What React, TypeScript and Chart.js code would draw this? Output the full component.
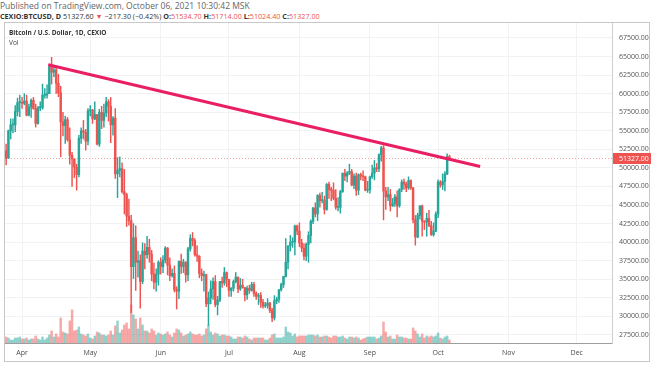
import React, { useEffect, useRef } from "react";
import { Chart, registerables } from "chart.js";

Chart.register(...registerables);

// Day offset (relative to 1 Apr 2021) of the first candle: 25 Mar 2021
const FIRST_DAY = -7;

// Daily OHLC in thousands of USD, 25 Mar 2021 .. 6 Oct 2021
const opens = [
  52.3, 51.3, 55.0, 55.8, 55.8, 57.6, 58.8, 58.8, 58.7, 59.0,
  57.1, 58.2, 59.1, 58.0, 56.0, 58.1, 58.1, 59.8, 59.8, 60.0,
  63.6, 62.9, 63.2, 61.4, 60.1, 56.2, 55.7, 56.5, 53.8, 51.7,
  51.2, 50.1, 49.1, 54.0, 55.0, 54.8, 53.6, 57.7, 57.8, 56.6,
  57.2, 53.2, 57.5, 56.4, 57.4, 58.9, 58.3, 55.8, 56.7, 49.2,
  49.7, 49.9, 46.8, 46.4, 43.5, 42.9, 36.7, 40.6, 37.3, 37.5,
  34.7, 38.8, 38.3, 39.3, 38.4, 35.7, 34.6, 35.7, 37.3, 36.7,
  37.6, 39.2, 36.9, 35.5, 35.8, 33.6, 33.4, 37.4, 36.7, 37.3,
  35.6, 39.1, 40.5, 40.2, 38.3, 38.1, 35.8, 35.5, 35.6, 31.7,
  32.5, 33.7, 34.7, 31.6, 32.2, 34.7, 34.5, 35.9, 35.0, 33.5,
  33.8, 34.7, 35.3, 33.7, 34.2, 33.9, 32.9, 33.8, 33.5, 34.3,
  33.1, 32.7, 32.8, 31.9, 31.4, 31.5, 31.8, 30.8, 29.8, 32.1,
  32.3, 33.6, 34.3, 35.4, 37.3, 39.5, 40.0, 40.0, 42.2, 41.5,
  39.9, 39.2, 38.1, 39.7, 40.9, 42.8, 44.6, 43.8, 46.3, 45.6,
  45.6, 44.4, 47.8, 47.1, 47.0, 45.9, 44.7, 44.7, 46.8, 49.3,
  48.9, 49.3, 49.5, 47.7, 48.9, 47.0, 49.1, 48.9, 48.8, 47.0,
  47.1, 48.8, 49.3, 50.0, 49.9, 51.8, 52.7, 46.9, 46.1, 46.4,
  44.9, 45.2, 46.1, 44.9, 47.1, 48.1, 47.8, 47.3, 48.3, 47.3,
  43.0, 40.7, 43.6, 44.9, 42.8, 42.7, 43.2, 42.2, 41.0, 41.5,
  43.8, 48.1, 47.7, 48.2, 49.2, 51.5347,
];

const highs = [
  53.2, 55.1, 56.6, 56.6, 58.4, 59.4, 59.8, 59.5, 60.0, 59.8,
  58.6, 59.3, 59.5, 58.6, 58.3, 58.9, 61.3, 60.7, 61.2, 63.8,
  64.9, 63.8, 63.6, 62.6, 61.0, 57.5, 57.0, 56.8, 55.4, 52.1,
  51.2, 50.5, 54.4, 55.4, 56.4, 55.2, 58.0, 58.4, 57.9, 58.9,
  57.2, 57.9, 58.3, 58.6, 59.5, 59.2, 59.5, 56.9, 58.0, 51.4,
  51.5, 50.7, 49.8, 46.6, 45.8, 43.6, 42.5, 42.2, 38.8, 38.3,
  39.9, 39.8, 40.8, 40.4, 38.9, 37.2, 36.4, 37.5, 37.9, 38.2,
  39.4, 39.3, 37.9, 36.4, 36.8, 34.0, 37.5, 38.4, 37.7, 37.4,
  39.3, 41.0, 41.3, 40.5, 39.5, 38.2, 36.4, 36.1, 35.7, 33.3,
  34.8, 35.2, 35.5, 32.7, 34.7, 35.3, 36.6, 36.0, 35.0, 33.9,
  34.9, 35.9, 35.3, 35.1, 35.0, 33.9, 34.1, 34.2, 34.6, 34.6,
  33.3, 33.1, 33.2, 32.3, 31.9, 32.4, 31.9, 31.1, 32.8, 32.6,
  33.6, 34.5, 35.4, 40.5, 39.5, 40.9, 40.6, 42.3, 42.3, 42.6,
  40.4, 39.8, 39.9, 41.4, 43.0, 44.7, 45.3, 46.4, 46.6, 46.7,
  46.2, 47.9, 48.1, 47.4, 48.0, 47.1, 46.0, 47.0, 49.3, 49.8,
  49.5, 50.5, 49.8, 49.2, 49.3, 49.2, 49.3, 49.6, 48.9, 48.2,
  48.9, 50.4, 51.0, 50.6, 51.9, 52.9, 53.0, 47.4, 47.4, 47.1,
  45.9, 46.4, 46.9, 47.2, 48.4, 48.5, 48.1, 48.8, 48.4, 47.4,
  43.6, 43.9, 44.9, 45.0, 42.9, 43.9, 44.3, 42.8, 42.6, 44.1,
  48.4, 48.3, 49.2, 49.5, 51.9, 51.714,
];

const lows = [
  50.4, 51.3, 53.9, 54.7, 54.9, 57.0, 56.9, 58.0, 58.5, 57.0,
  57.0, 56.8, 57.9, 55.5, 55.9, 57.7, 57.9, 59.4, 59.4, 60.0,
  61.3, 62.3, 60.0, 59.6, 51.5, 54.3, 53.3, 53.6, 50.5, 47.5,
  48.7, 47.0, 48.8, 53.3, 53.9, 52.4, 53.1, 57.0, 56.0, 56.5,
  53.1, 52.9, 55.3, 55.5, 56.9, 56.3, 53.4, 54.4, 48.6, 46.0,
  48.8, 46.6, 43.8, 42.1, 42.3, 30.5, 35.1, 33.5, 35.3, 31.1,
  34.4, 36.4, 37.8, 37.3, 34.8, 33.7, 33.4, 34.2, 35.7, 35.9,
  37.2, 35.6, 34.8, 35.3, 33.3, 31.0, 32.4, 35.8, 35.9, 34.6,
  34.8, 38.8, 39.5, 38.1, 37.4, 35.2, 34.8, 33.4, 31.3, 28.8,
  31.7, 32.3, 31.3, 30.2, 32.0, 33.9, 34.2, 34.0, 32.7, 32.7,
  33.4, 34.5, 33.2, 33.5, 33.8, 32.1, 32.3, 33.1, 33.4, 32.7,
  32.3, 31.6, 31.2, 31.1, 31.2, 31.1, 30.5, 29.3, 29.5, 31.7,
  31.9, 33.4, 33.9, 35.3, 36.4, 38.8, 39.3, 38.3, 41.0, 39.4,
  38.7, 37.6, 37.5, 37.3, 39.9, 42.5, 43.4, 42.9, 44.7, 45.3,
  43.8, 44.3, 45.9, 45.6, 45.7, 44.4, 44.2, 43.9, 46.7, 48.3,
  48.1, 49.1, 47.6, 47.2, 46.3, 46.4, 48.4, 48.3, 46.9, 46.7,
  46.6, 48.6, 48.4, 49.5, 49.5, 50.9, 43.0, 44.4, 45.6, 44.2,
  44.8, 44.8, 43.4, 44.7, 46.8, 47.1, 46.8, 47.1, 47.1, 42.6,
  39.6, 40.6, 43.1, 40.8, 41.7, 40.8, 42.1, 40.9, 40.8, 41.4,
  43.3, 47.4, 47.1, 46.9, 49.1, 51.0244,
];

const closes = [
  51.3, 55.0, 55.8, 55.8, 57.6, 58.8, 58.8, 58.7, 59.0, 57.1,
  58.2, 59.1, 58.0, 56.0, 58.1, 58.1, 59.8, 59.8, 60.0, 63.6,
  62.9, 63.2, 61.4, 60.1, 56.2, 55.7, 56.5, 53.8, 51.7, 51.2,
  50.1, 49.1, 54.0, 55.0, 54.8, 53.6, 57.7, 57.8, 56.6, 57.2,
  53.2, 57.5, 56.4, 57.4, 58.9, 58.3, 55.8, 56.7, 49.2, 49.7,
  49.9, 46.8, 46.4, 43.5, 42.9, 36.7, 40.6, 37.3, 37.5, 34.7,
  38.8, 38.3, 39.3, 38.4, 35.7, 34.6, 35.7, 37.3, 36.7, 37.6,
  39.2, 36.9, 35.5, 35.8, 33.6, 33.4, 37.4, 36.7, 37.3, 35.6,
  39.1, 40.5, 40.2, 38.3, 38.1, 35.8, 35.5, 35.6, 31.7, 32.5,
  33.7, 34.7, 31.6, 32.2, 34.7, 34.5, 35.9, 35.0, 33.5, 33.8,
  34.7, 35.3, 33.7, 34.2, 33.9, 32.9, 33.8, 33.5, 34.3, 33.1,
  32.7, 32.8, 31.9, 31.4, 31.5, 31.8, 30.8, 29.8, 32.1, 32.3,
  33.6, 34.3, 35.4, 37.3, 39.5, 40.0, 40.0, 42.2, 41.5, 39.9,
  39.2, 38.1, 39.7, 40.9, 42.8, 44.6, 43.8, 46.3, 45.6, 45.6,
  44.4, 47.8, 47.1, 47.0, 45.9, 44.7, 44.7, 46.8, 49.3, 48.9,
  49.3, 49.5, 47.7, 48.9, 47.0, 49.1, 48.9, 48.8, 47.0, 47.1,
  48.8, 49.3, 50.0, 49.9, 51.8, 52.7, 46.9, 46.1, 46.4, 44.9,
  45.2, 46.1, 44.9, 47.1, 48.1, 47.8, 47.3, 48.3, 47.3, 43.0,
  40.7, 43.6, 44.9, 42.8, 42.7, 43.2, 42.2, 41.0, 41.5, 43.8,
  48.1, 47.7, 48.2, 49.2, 51.5347, 51.327,
];

// Relative daily volume (arbitrary units)
const volumes = [
  6, 5, 3, 3, 5, 5, 6, 4, 4, 5,
  3, 4, 4, 7, 4, 3, 6, 3, 5, 8,
  12, 6, 9, 6, 25, 11, 10, 9, 22, 33,
  12, 13, 16, 9, 8, 7, 9, 5, 4, 7,
  11, 10, 8, 8, 7, 8, 12, 8, 17, 22,
  10, 13, 18, 20, 14, 38, 28, 24, 14, 25,
  18, 12, 12, 10, 14, 12, 8, 10, 9, 8,
  9, 11, 8, 6, 10, 14, 13, 10, 7, 8,
  9, 11, 9, 8, 8, 9, 7, 8, 14, 18,
  11, 8, 10, 9, 7, 8, 8, 7, 7, 6,
  4, 4, 6, 6, 5, 7, 6, 4, 3, 5,
  5, 5, 5, 5, 3, 3, 5, 8, 9, 5,
  5, 5, 6, 16, 11, 10, 7, 9, 6, 7,
  7, 7, 7, 8, 8, 8, 7, 8, 6, 6,
  7, 7, 6, 5, 7, 7, 6, 6, 7, 5,
  4, 6, 6, 5, 6, 5, 3, 4, 5, 6,
  6, 6, 6, 4, 5, 7, 21, 11, 6, 7,
  4, 4, 8, 6, 6, 5, 5, 4, 4, 15,
  12, 9, 6, 9, 5, 7, 6, 7, 6, 7,
  10, 5, 4, 6, 7, 3,
];

const monthStarts = [0, 30, 61, 91, 122, 153, 183, 214, 244];
const monthNames = ["Apr", "May", "Jun", "Jul", "Aug", "Sep", "Oct", "Nov", "Dec"];
const priceTicks = [27.5, 30, 32.5, 35, 37.5, 40, 42.5, 45, 47.5, 50, 52.5, 55, 57.5, 60, 62.5, 65, 67.5];
const lastPrice = 51.327;
const trendLine = [
  { x: 11.5, y: 63.9 },
  { x: 201.5, y: 50.2 },
];

const UP = "#26a69a";
const DOWN = "#ef5350";
const UP_VOL = "rgba(38,166,154,0.5)";
const DOWN_VOL = "rgba(239,83,80,0.5)";
const FONT = "'Open Sans', 'Liberation Sans', Arial, sans-serif";

export default function App() {
  const ref = useRef<HTMLCanvasElement | null>(null);

  useEffect(() => {
    const canvas = ref.current;
    if (!canvas) return;
    const xs = closes.map((_, i) => FIRST_DAY + i);
    const isUp = closes.map((c, i) => c >= opens[i]);

    const priceLine = {
      id: "priceLine",
      beforeDatasetsDraw(chart: any) {
        const { ctx, chartArea } = chart;
        const y = Math.round(chart.scales.y.getPixelForValue(lastPrice)) + 0.5;
        ctx.save();
        ctx.strokeStyle = "rgba(239,83,80,0.55)";
        ctx.lineWidth = 1;
        ctx.setLineDash([1, 2]);
        ctx.beginPath();
        ctx.moveTo(chartArea.left, y);
        ctx.lineTo(chartArea.right, y);
        ctx.stroke();
        ctx.restore();
      },
      afterDraw(chart: any) {
        const { ctx, chartArea } = chart;
        const y = chart.scales.y.getPixelForValue(lastPrice);
        ctx.save();
        ctx.fillStyle = DOWN;
        ctx.fillRect(chartArea.right + 1, Math.round(y) - 5, 38, 11);
        ctx.fillStyle = "#ffffff";
        ctx.font = `7px ${FONT}`;
        ctx.textBaseline = "middle";
        ctx.textAlign = "left";
        ctx.fillText((lastPrice * 1000).toFixed(2), chartArea.right + 7, Math.round(y) + 0.5);
        ctx.restore();
      },
    };

    const chart = new Chart(canvas, {
      type: "bar",
      data: {
        datasets: [
          {
            type: "line",
            data: trendLine,
            borderColor: "#e91e63",
            borderWidth: 3,
            pointRadius: 0,
            yAxisID: "y",
            order: 0,
          } as any,
          {
            data: xs.map((x, i) => ({ x, y: [opens[i], closes[i]] })),
            backgroundColor: isUp.map((u) => (u ? UP : DOWN)),
            barThickness: 1.8,
            minBarLength: 1,
            grouped: false,
            yAxisID: "y",
            order: 1,
          } as any,
          {
            data: xs.map((x, i) => ({ x, y: [lows[i], highs[i]] })),
            backgroundColor: isUp.map((u) => (u ? UP : DOWN)),
            barThickness: 0.8,
            grouped: false,
            yAxisID: "y",
            order: 2,
          } as any,
          {
            data: xs.map((x, i) => ({ x, y: volumes[i] })),
            backgroundColor: isUp.map((u) => (u ? UP_VOL : DOWN_VOL)),
            barThickness: 1.8,
            grouped: false,
            yAxisID: "yv",
            order: 3,
          } as any,
        ],
      },
      options: {
        responsive: false,
        animation: false,
        devicePixelRatio: 1,
        layout: { padding: { left: 5, top: 23, right: 0, bottom: 4 } },
        plugins: { legend: { display: false }, tooltip: { enabled: false } },
        scales: {
          x: {
            type: "linear",
            min: -7.5,
            max: 259.5,
            offset: false,
            afterBuildTicks: (s: any) => {
              s.ticks = monthStarts.map((v) => ({ value: v }));
            },
            afterFit: (s: any) => {
              s.height = 19;
            },
            ticks: {
              autoSkip: false,
              maxRotation: 0,
              color: "#4a4a4a",
              font: { size: 7, family: FONT },
              padding: 6,
              callback: (v: any) => monthNames[monthStarts.indexOf(Number(v))] ?? "",
            },
            grid: { color: "#f0f2f5", drawTicks: false, offset: false },
            border: { display: true, color: "#9e9e9e" },
          },
          y: {
            type: "linear",
            position: "right",
            min: 26.42,
            max: 69.52,
            afterBuildTicks: (s: any) => {
              s.ticks = priceTicks.map((v) => ({ value: v }));
            },
            afterFit: (s: any) => {
              s.width = 42;
            },
            ticks: {
              autoSkip: false,
              color: "#555555",
              font: { size: 7, family: FONT },
              padding: 7,
              callback: (v: any) => (Number(v) * 1000).toFixed(2),
            },
            grid: { color: "#f0f2f5", drawTicks: false },
            border: { display: true, color: "#cfcfcf" },
          },
          yv: {
            type: "linear",
            display: false,
            min: 0,
            max: 319,
          },
        },
      } as any,
      plugins: [priceLine],
    });
    return () => chart.destroy();
  }, []);

  const red = { color: "#ef5350" };
  return (
    <div
      style={{
        position: "fixed",
        left: 0,
        top: 0,
        width: 654,
        height: 366,
        background: "#ffffff",
        overflow: "hidden",
        fontFamily: FONT,
      }}
    >
      <div style={{ position: "absolute", left: 0, top: 0, fontSize: 8.5, color: "#666", whiteSpace: "nowrap", lineHeight: "12px" }}>
        Published on TradingView.com, October 06, 2021 10:30:42 MSK
      </div>
      <div style={{ position: "absolute", left: 0, top: 10, fontSize: 7.2, color: "#333", whiteSpace: "nowrap", lineHeight: "12px" }}>
        <b>CEXIO:BTCUSD, D</b> 51327.60 <span style={red}>▼</span> −217.30 (−0.42%) <b>O:</b>
        <span style={red}>51534.70</span> <b>H:</b>
        <span style={red}>51714.00</span> <b>L:</b>
        <span style={red}>51024.40</span> <b>C:</b>
        <span style={red}>51327.00</span>
      </div>
      <div
        style={{
          position: "absolute",
          left: 4,
          top: 22,
          width: 646,
          height: 340,
          border: "1px solid #c8c8c8",
          boxSizing: "border-box",
        }}
      />
      <canvas ref={ref} width={654} height={366} style={{ position: "absolute", left: 0, top: 0 }} />
      <div style={{ position: "absolute", left: 9, top: 28, fontSize: 6.5, fontWeight: 700, color: "#333", whiteSpace: "nowrap", lineHeight: "10px" }}>
        Bitcoin / U.S. Dollar, 1D, CEXIO
      </div>
      <div style={{ position: "absolute", left: 9, top: 38, fontSize: 6.5, color: "#444", whiteSpace: "nowrap", lineHeight: "10px" }}>
        Vol
      </div>
    </div>
  );
}
